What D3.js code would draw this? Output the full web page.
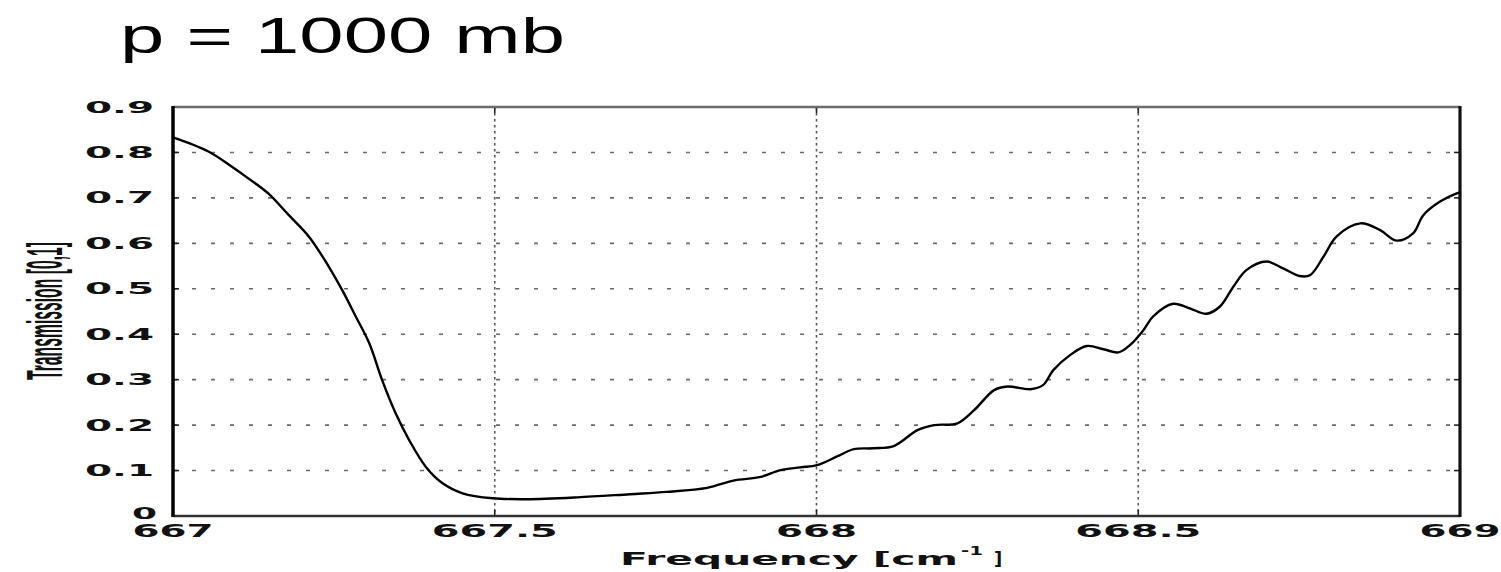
<!DOCTYPE html>
<html>
<head>
<meta charset="utf-8">
<script src="https://cdn.jsdelivr.net/npm/d3@7"></script>
<style>
  html, body { margin: 0; padding: 0; background: #fff; }
  svg { display: block; }
</style>
</head>
<body>
<svg id="chart" width="1501" height="572"></svg>
<script>
// CO2 band transmission spectrum near 667 cm^-1 at surface pressure
const frequency = [
  667.000, 667.055, 667.091, 667.117, 667.148, 667.180, 667.211, 667.242,
  667.263, 667.284, 667.305, 667.325, 667.346, 667.367, 667.393, 667.419,
  667.450, 667.497, 667.549, 667.628, 667.710, 667.767, 667.830, 667.871,
  667.913, 667.944, 667.975, 668.001, 668.032, 668.058, 668.089, 668.120,
  668.157, 668.183, 668.219, 668.245, 668.276, 668.297, 668.332, 668.352,
  668.368, 668.394, 668.420, 668.446, 668.469, 668.487, 668.508, 668.523,
  668.554, 668.580, 668.606, 668.627, 668.648, 668.668, 668.699, 668.725,
  668.751, 668.767, 668.788, 668.808, 668.845, 668.876, 668.901, 668.927,
  668.943, 668.969, 668.995, 669.000
];
const transmission = [
  0.833, 0.802, 0.769, 0.743, 0.710, 0.662, 0.615, 0.549,
  0.497, 0.439, 0.380, 0.299, 0.226, 0.167, 0.108, 0.072,
  0.050, 0.039, 0.037, 0.041, 0.048, 0.053, 0.062, 0.078,
  0.086, 0.101, 0.107, 0.112, 0.131, 0.147, 0.149, 0.154,
  0.189, 0.200, 0.204, 0.233, 0.277, 0.285, 0.279, 0.288,
  0.321, 0.354, 0.374, 0.367, 0.360, 0.376, 0.409, 0.439,
  0.467, 0.457, 0.445, 0.461, 0.505, 0.541, 0.560, 0.545,
  0.528, 0.530, 0.571, 0.615, 0.644, 0.629, 0.606, 0.622,
  0.662, 0.692, 0.710, 0.712
];
const xTicks = [667, 667.5, 668, 668.5, 669];
const xTickLabels = ["667", "667.5", "668", "668.5", "669"];
const yTicks = [0, 0.1, 0.2, 0.3, 0.4, 0.5, 0.6, 0.7, 0.8, 0.9];
const yTickLabels = ["0", "0.1", "0.2", "0.3", "0.4", "0.5", "0.6", "0.7", "0.8", "0.9"];
const titleText = "p = 1000 mb";
const xTitle = "Frequency [cm";
const xTitleSup = "-1";
const yTitle = "Transmission [0,1]";

const svg = d3.select("#chart");
const L = 173, R = 1460, T = 107, B = 516;

const x = d3.scaleLinear().domain([667, 669]).range([L, R]);
const y = d3.scaleLinear().domain([0, 0.9]).range([B, T]);

// width of a tick label in the stretched blocky face
const labelWidth = (s, digit, dot) =>
  s.split("").reduce((w, c) => w + (c === "." ? dot : digit), 0);

// horizontal grid
svg.append("g")
  .selectAll("line")
  .data(yTicks.filter(d => d > 0 && d < 0.9))
  .join("line")
  .attr("x1", L).attr("x2", R)
  .attr("y1", d => y(d)).attr("y2", d => y(d))
  .attr("stroke", "#6a6a6a")
  .attr("stroke-width", 1.6)
  .attr("stroke-dasharray", "4,15");

// vertical grid
svg.append("g")
  .selectAll("line")
  .data(xTicks.filter(d => d > 667 && d < 669))
  .join("line")
  .attr("x1", d => x(d)).attr("x2", d => x(d))
  .attr("y1", T).attr("y2", B)
  .attr("stroke", "#555")
  .attr("stroke-width", 1.6)
  .attr("stroke-dasharray", "2.5,3.5");

// inner ticks on all four sides
const tickLen = 6;
const tg = svg.append("g").attr("stroke", "#222").attr("stroke-width", 1.6);
xTicks.filter(d => d > 667 && d < 669).forEach(d => {
  tg.append("line").attr("x1", x(d)).attr("x2", x(d)).attr("y1", B).attr("y2", B - tickLen);
  tg.append("line").attr("x1", x(d)).attr("x2", x(d)).attr("y1", T).attr("y2", T + tickLen);
});
yTicks.filter(d => d > 0 && d < 0.9).forEach(d => {
  tg.append("line").attr("x1", L).attr("x2", L + tickLen).attr("y1", y(d)).attr("y2", y(d));
  tg.append("line").attr("x1", R).attr("x2", R - tickLen).attr("y1", y(d)).attr("y2", y(d));
});

// plot frame
svg.append("line").attr("x1", L).attr("x2", R).attr("y1", T).attr("y2", T)
  .attr("stroke", "#6b6b6b").attr("stroke-width", 2.5);
svg.append("line").attr("x1", L).attr("x2", R).attr("y1", B).attr("y2", B)
  .attr("stroke", "#333").attr("stroke-width", 2.6);
svg.append("line").attr("x1", L).attr("x2", L).attr("y1", T - 1).attr("y2", B + 1)
  .attr("stroke", "#000").attr("stroke-width", 3.5);
svg.append("line").attr("x1", R).attr("x2", R).attr("y1", T - 1).attr("y2", B + 1)
  .attr("stroke", "#111").attr("stroke-width", 3.2);

// transmission curve
const line = d3.line()
  .x((d, i) => x(frequency[i]))
  .y(d => y(d))
  .curve(d3.curveCatmullRom.alpha(0.5));
svg.append("path")
  .datum(transmission)
  .attr("d", line)
  .attr("fill", "none")
  .attr("stroke", "#000")
  .attr("stroke-width", 2.4)
  .attr("stroke-linejoin", "round");

// tick labels
const tickFont = "'DejaVu Sans', sans-serif";
svg.append("g")
  .selectAll("text")
  .data(yTicks)
  .join("text")
  .attr("x", d => d === 0 ? L - 16 : L - 19)
  .attr("y", d => y(d) + (d === 0 ? 3 : 5.5))
  .attr("text-anchor", "end")
  .attr("font-family", tickFont)
  .attr("font-weight", "bold")
  .attr("font-size", 15)
  .attr("fill", "#111")
  .attr("textLength", (d, i) => labelWidth(yTickLabels[i], 25, 19))
  .attr("lengthAdjust", "spacingAndGlyphs")
  .text((d, i) => yTickLabels[i]);

svg.append("g")
  .selectAll("text")
  .data(xTicks)
  .join("text")
  .attr("x", d => x(d))
  .attr("y", B + 21)
  .attr("text-anchor", "middle")
  .attr("font-family", tickFont)
  .attr("font-weight", "bold")
  .attr("font-size", 18)
  .attr("fill", "#111")
  .attr("textLength", (d, i) => labelWidth(xTickLabels[i], 27, 18))
  .attr("lengthAdjust", "spacingAndGlyphs")
  .text((d, i) => xTickLabels[i]);

// axis titles
const xt = svg.append("g").attr("font-family", tickFont).attr("font-weight", "bold").attr("fill", "#111");
xt.append("text")
  .attr("x", 620).attr("y", 565)
  .attr("font-size", 18)
  .attr("textLength", 338).attr("lengthAdjust", "spacingAndGlyphs")
  .text(xTitle);
xt.append("text")
  .attr("x", 961).attr("y", 555)
  .attr("font-size", 12)
  .attr("textLength", 22).attr("lengthAdjust", "spacingAndGlyphs")
  .text(xTitleSup);
xt.append("text")
  .attr("x", 994).attr("y", 565)
  .attr("font-size", 18)
  .text("]");

// vertical title: condensed along its length, tall glyphs
svg.append("text")
  .attr("transform", "translate(62,311) rotate(-90) scale(1,2.8)")
  .attr("text-anchor", "middle")
  .attr("font-family", "'Liberation Sans', sans-serif")
  .attr("font-weight", "bold")
  .attr("font-size", 18)
  .attr("fill", "#111")
  .attr("textLength", 138).attr("lengthAdjust", "spacingAndGlyphs")
  .text(yTitle);

// chart title
svg.append("text")
  .attr("x", 120).attr("y", 53)
  .attr("font-family", "'Liberation Sans', sans-serif")
  .attr("font-size", 50)
  .attr("fill", "#000")
  .attr("textLength", 445).attr("lengthAdjust", "spacingAndGlyphs")
  .text(titleText);
</script>
</body>
</html>
